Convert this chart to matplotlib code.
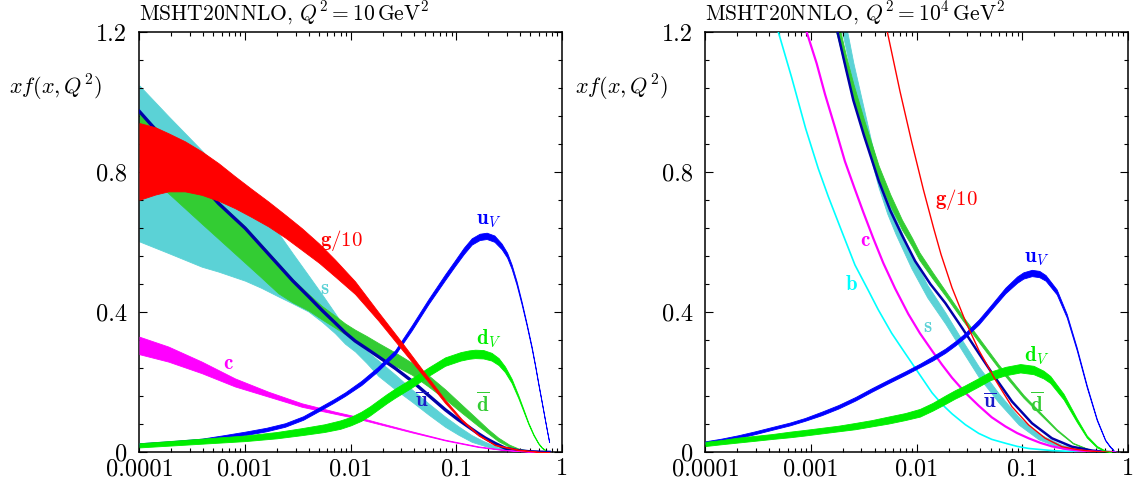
import numpy as np
import matplotlib
matplotlib.use('Agg')
import matplotlib.pyplot as plt
from matplotlib.ticker import FixedLocator, FixedFormatter, LogLocator, MultipleLocator, NullFormatter

plt.rcParams['font.family'] = 'cmr10'
plt.rcParams['mathtext.fontset'] = 'cm'
plt.rcParams['axes.unicode_minus'] = False

# all x positions are log10(x)

# ---- left panel, Q^2 = 10 GeV^2 ----
q10_g_lx = [-4.0, -3.85, -3.727, -3.57, -3.411, -3.25, -3.096, -2.94, -2.78, -2.62, -2.464, -2.3, -2.149, -1.959, -1.738, -1.517, -1.265, -1.107, -0.95, -0.792, -0.635, -0.414, -0.225, -0.12]
q10_g_hi = [0.940, 0.928, 0.911, 0.888, 0.859, 0.825, 0.788, 0.752, 0.716, 0.678, 0.640, 0.596, 0.550, 0.488, 0.400, 0.314, 0.213, 0.150, 0.095, 0.051, 0.022, 0.008, 0.002, 0.001]
q10_g_lo = [0.721, 0.736, 0.745, 0.745, 0.735, 0.718, 0.697, 0.672, 0.645, 0.613, 0.578, 0.541, 0.502, 0.452, 0.376, 0.294, 0.201, 0.141, 0.090, 0.048, 0.020, 0.006, 0.001, 0.0]

q10_s_lx = [-4.0, -3.727, -3.411, -3.253, -3.0, -2.85, -2.685, -2.55, -2.4, -2.27, -2.149, -2.054, -1.959, -1.85, -1.738, -1.58, -1.423, -1.265, -1.107, -0.98, -0.855, -0.75, -0.635, -0.52, -0.414, -0.3, -0.2, -0.12]
q10_s_hi = [1.047, 0.960, 0.862, 0.811, 0.725, 0.678, 0.626, 0.568, 0.505, 0.450, 0.397, 0.355, 0.318, 0.290, 0.262, 0.222, 0.180, 0.140, 0.102, 0.074, 0.049, 0.033, 0.018, 0.009, 0.005, 0.002, 0.001, 0.0]
q10_s_lo = [0.602, 0.569, 0.530, 0.516, 0.490, 0.470, 0.445, 0.425, 0.402, 0.372, 0.340, 0.310, 0.288, 0.255, 0.218, 0.180, 0.145, 0.108, 0.073, 0.050, 0.030, 0.020, 0.010, 0.005, 0.002, 0.001, 0.0, 0.0]

q10_dbar_lx = [-4.0, -3.8, -3.6, -3.411, -3.253, -3.0, -2.85, -2.685, -2.55, -2.4, -2.275, -2.149, -2.054, -1.959, -1.85, -1.738, -1.58, -1.423, -1.265, -1.107, -0.95, -0.792, -0.7, -0.604, -0.5, -0.414, -0.3, -0.2, -0.12]
q10_dbar_hi = [0.969, 0.915, 0.855, 0.785, 0.716, 0.645, 0.595, 0.540, 0.495, 0.452, 0.418, 0.390, 0.368, 0.350, 0.332, 0.312, 0.285, 0.256, 0.220, 0.180, 0.136, 0.092, 0.066, 0.042, 0.022, 0.011, 0.004, 0.001, 0.0]
q10_dbar_lo = [0.815, 0.760, 0.705, 0.653, 0.610, 0.541, 0.500, 0.454, 0.428, 0.405, 0.380, 0.356, 0.338, 0.320, 0.300, 0.272, 0.247, 0.222, 0.188, 0.152, 0.113, 0.075, 0.054, 0.032, 0.016, 0.008, 0.003, 0.0005, 0.0]

q10_ubar_lx = [-4.0, -3.8, -3.6, -3.4, -3.253, -3.1, -3.0, -2.85, -2.685, -2.55, -2.4, -2.27, -2.149, -2.054, -1.959, -1.85, -1.738, -1.58, -1.423, -1.265, -1.107, -0.99, -0.886, -0.8, -0.728, -0.63, -0.54, -0.42, -0.319, -0.2, -0.12]
q10_ubar = [0.973, 0.905, 0.835, 0.760, 0.711, 0.668, 0.640, 0.590, 0.535, 0.490, 0.445, 0.405, 0.370, 0.342, 0.318, 0.296, 0.273, 0.240, 0.204, 0.163, 0.122, 0.095, 0.073, 0.055, 0.041, 0.025, 0.012, 0.005, 0.002, 0.0005, 0.0]

q10_c_lx = [-4.0, -3.727, -3.411, -3.096, -2.78, -2.464, -2.149, -1.959, -1.738, -1.423, -1.107, -0.792, -0.54, -0.288, -0.12]
q10_c_hi = [0.330, 0.302, 0.259, 0.211, 0.173, 0.140, 0.116, 0.103, 0.085, 0.060, 0.036, 0.017, 0.007, 0.002, 0.0]
q10_c_lo = [0.280, 0.259, 0.226, 0.188, 0.159, 0.130, 0.110, 0.098, 0.081, 0.057, 0.034, 0.015, 0.006, 0.001, 0.0]

q10_uv_lx = [-4.0, -3.7, -3.411, -3.2, -3.0, -2.8, -2.622, -2.45, -2.306, -2.17, -2.054, -1.9, -1.75, -1.58, -1.423, -1.265, -1.107, -1.013, -0.93, -0.855, -0.78, -0.713, -0.64, -0.572, -0.52, -0.477, -0.43, -0.382, -0.335, -0.288, -0.255, -0.225, -0.19, -0.161, -0.14, -0.122]
q10_uv = [0.022, 0.028, 0.035, 0.044, 0.054, 0.065, 0.078, 0.098, 0.122, 0.145, 0.166, 0.198, 0.236, 0.285, 0.355, 0.430, 0.500, 0.540, 0.575, 0.602, 0.615, 0.618, 0.610, 0.588, 0.563, 0.530, 0.483, 0.426, 0.365, 0.300, 0.248, 0.197, 0.140, 0.092, 0.058, 0.030]
q10_uv_err = [0.004, 0.004, 0.004, 0.005, 0.005, 0.005, 0.005, 0.005, 0.005, 0.005, 0.005, 0.006, 0.006, 0.006, 0.007, 0.007, 0.008, 0.008, 0.009, 0.009, 0.009, 0.009, 0.009, 0.008, 0.007, 0.006, 0.005, 0.004, 0.003, 0.003, 0.002, 0.002, 0.0015, 0.001, 0.001, 0.001]

q10_dv_lx = [-4.0, -3.5, -3.0, -2.7, -2.464, -2.25, -2.1, -2.0, -1.9, -1.82, -1.738, -1.66, -1.58, -1.423, -1.265, -1.107, -0.96, -0.88, -0.823, -0.745, -0.667, -0.6, -0.54, -0.477, -0.414, -0.365, -0.319, -0.27, -0.225, -0.19, -0.161]
q10_dv = [0.020, 0.030, 0.040, 0.049, 0.059, 0.069, 0.079, 0.089, 0.103, 0.118, 0.136, 0.153, 0.169, 0.198, 0.230, 0.259, 0.274, 0.279, 0.281, 0.280, 0.273, 0.259, 0.237, 0.204, 0.159, 0.120, 0.083, 0.050, 0.026, 0.013, 0.007]
q10_dv_err = [0.006, 0.007, 0.008, 0.009, 0.010, 0.011, 0.012, 0.012, 0.013, 0.013, 0.013, 0.013, 0.013, 0.013, 0.012, 0.012, 0.012, 0.012, 0.012, 0.012, 0.011, 0.010, 0.008, 0.006, 0.004, 0.003, 0.002, 0.0015, 0.001, 0.0008, 0.0005]

# ---- right panel, Q^2 = 10^4 GeV^2 ----
q1e4_g_lx = [-2.32, -2.278, -2.158, -2.047, -1.937, -1.84, -1.77, -1.666, -1.54, -1.413, -1.256, -1.098, -0.94, -0.783, -0.625, -0.5, -0.403, -0.3, -0.15]
q1e4_g = [1.26, 1.20, 1.03, 0.885, 0.750, 0.640, 0.565, 0.470, 0.375, 0.292, 0.207, 0.130, 0.078, 0.040, 0.016, 0.009, 0.005, 0.002, 0.0]

q1e4_b_lx = [-3.36, -3.31, -3.184, -3.052, -2.932, -2.837, -2.711, -2.585, -2.458, -2.364, -2.237, -2.11, -1.97, -1.855, -1.76, -1.666, -1.54, -1.413, -1.29, -1.161, -1.05, -0.94, -0.72, -0.5, -0.3, -0.12]
q1e4_b = [1.25, 1.20, 1.07, 0.925, 0.810, 0.730, 0.632, 0.535, 0.462, 0.407, 0.340, 0.283, 0.221, 0.170, 0.137, 0.110, 0.079, 0.054, 0.037, 0.026, 0.017, 0.011, 0.005, 0.002, 0.0005, 0.0]

q1e4_c_lx = [-3.1, -3.042, -2.947, -2.868, -2.773, -2.68, -2.59, -2.505, -2.41, -2.316, -2.205, -2.08, -1.97, -1.855, -1.76, -1.666, -1.54, -1.413, -1.29, -1.161, -1.05, -0.94, -0.83, -0.72, -0.6, -0.47, -0.3, -0.12]
q1e4_c = [1.27, 1.20, 1.11, 1.022, 0.927, 0.831, 0.755, 0.685, 0.610, 0.540, 0.468, 0.395, 0.340, 0.290, 0.250, 0.213, 0.170, 0.133, 0.100, 0.074, 0.055, 0.040, 0.027, 0.017, 0.010, 0.005, 0.0015, 0.0]

q1e4_s_lx = [-2.75, -2.68, -2.6, -2.5, -2.43, -2.36, -2.28, -2.2, -2.05, -1.9, -1.729, -1.57, -1.413, -1.224, -1.035, -0.846, -0.625, -0.403, -0.2, -0.12]
q1e4_s = [1.30, 1.20, 1.08, 0.95, 0.86, 0.78, 0.705, 0.645, 0.545, 0.460, 0.383, 0.305, 0.230, 0.155, 0.090, 0.045, 0.016, 0.004, 0.0005, 0.0]
q1e4_s_err = [0.04, 0.035, 0.032, 0.03, 0.027, 0.025, 0.023, 0.022, 0.02, 0.018, 0.016, 0.015, 0.015, 0.013, 0.011, 0.008, 0.005, 0.002, 0.0005, 0.0]

q1e4_dbar_lx = [-2.8, -2.74, -2.67, -2.6, -2.5, -2.43, -2.36, -2.25, -2.14, -2.044, -1.975, -1.85, -1.729, -1.57, -1.413, -1.224, -0.99, -0.83, -0.675, -0.52, -0.36, -0.2, -0.12]
q1e4_dbar = [1.27, 1.20, 1.11, 1.03, 0.93, 0.865, 0.80, 0.72, 0.65, 0.60, 0.56, 0.505, 0.454, 0.385, 0.321, 0.245, 0.160, 0.111, 0.064, 0.026, 0.007, 0.001, 0.0]
q1e4_dbar_err = [0.03, 0.025, 0.023, 0.022, 0.02, 0.019, 0.018, 0.016, 0.014, 0.012, 0.011, 0.009, 0.007, 0.006, 0.006, 0.005, 0.004, 0.003, 0.002, 0.001, 0.0005, 0.0, 0.0]

q1e4_ubar_lx = [-2.8, -2.75, -2.67, -2.6, -2.5, -2.43, -2.36, -2.25, -2.14, -2.015, -1.87, -1.729, -1.57, -1.413, -1.287, -1.098, -0.909, -0.72, -0.53, -0.34, -0.2, -0.12]
q1e4_ubar = [1.26, 1.20, 1.095, 1.005, 0.905, 0.84, 0.775, 0.69, 0.62, 0.546, 0.48, 0.426, 0.355, 0.283, 0.226, 0.145, 0.083, 0.040, 0.016, 0.005, 0.001, 0.0]

q1e4_uv_lx = [-4.0, -3.85, -3.69, -3.53, -3.373, -3.2, -3.058, -2.9, -2.742, -2.58, -2.426, -2.27, -2.11, -1.97, -1.85, -1.73, -1.64, -1.55, -1.413, -1.306, -1.161, -1.05, -0.99, -0.91, -0.84, -0.78, -0.675, -0.58, -0.485, -0.39, -0.295, -0.216, -0.17, -0.137]
q1e4_uv = [0.0275, 0.035, 0.0447, 0.056, 0.068, 0.081, 0.094, 0.111, 0.130, 0.153, 0.178, 0.202, 0.226, 0.248, 0.268, 0.290, 0.310, 0.332, 0.372, 0.410, 0.462, 0.493, 0.505, 0.512, 0.509, 0.498, 0.458, 0.390, 0.295, 0.188, 0.093, 0.035, 0.016, 0.006]
q1e4_uv_err = [0.004, 0.004, 0.004, 0.004, 0.004, 0.004, 0.004, 0.005, 0.005, 0.005, 0.005, 0.005, 0.005, 0.005, 0.006, 0.006, 0.006, 0.006, 0.007, 0.007, 0.008, 0.009, 0.009, 0.009, 0.009, 0.008, 0.007, 0.005, 0.004, 0.003, 0.002, 0.001, 0.001, 0.0005]

q1e4_dv_lx = [-4.0, -3.85, -3.69, -3.53, -3.373, -3.2, -3.058, -2.9, -2.742, -2.58, -2.426, -2.27, -2.11, -1.97, -1.85, -1.73, -1.64, -1.55, -1.413, -1.306, -1.16, -1.02, -0.894, -0.8, -0.736, -0.61, -0.485, -0.39, -0.295, -0.216, -0.16]
q1e4_dv = [0.024, 0.029, 0.035, 0.040, 0.045, 0.051, 0.056, 0.062, 0.068, 0.075, 0.083, 0.092, 0.102, 0.113, 0.130, 0.150, 0.165, 0.178, 0.200, 0.218, 0.232, 0.240, 0.235, 0.222, 0.208, 0.159, 0.092, 0.045, 0.016, 0.004, 0.001]
q1e4_dv_err = [0.006, 0.006, 0.007, 0.007, 0.007, 0.008, 0.008, 0.008, 0.008, 0.009, 0.009, 0.010, 0.010, 0.011, 0.011, 0.012, 0.012, 0.012, 0.012, 0.012, 0.012, 0.012, 0.012, 0.011, 0.010, 0.008, 0.005, 0.003, 0.002, 0.001, 0.0005]

x_ticks = [1e-4, 1e-3, 1e-2, 1e-1, 1.0]
x_tick_labels = ['0.0001', '0.001', '0.01', '0.1', '1']
y_ticks = [0.0, 0.4, 0.8, 1.2]
y_tick_labels = ['0', '0.4', '0.8', '1.2']

C_S = '#5bd2d6'
C_DBAR = '#33cc33'
C_UBAR = '#0000a8'
C_UV = '#0000ff'
C_DV = '#00ee00'
C_C = '#ff00ff'
C_B = '#00ffff'
C_G = '#ff0000'


def xs(lx):
    return 10.0 ** np.asarray(lx)


def band(ax, lx, lo, hi, color, z):
    ax.fill_between(xs(lx), lo, hi, facecolor=color, edgecolor=color, lw=0.6, zorder=z)


def band_err(ax, lx, c, e, color, z):
    c = np.asarray(c)
    e = np.asarray(e)
    band(ax, lx, c - e, c + e, color, z)


def setup(ax, title):
    ax.set_xscale('log')
    ax.set_xlim(1e-4, 1.0)
    ax.set_ylim(0, 1.2)
    ax.xaxis.set_major_locator(FixedLocator(x_ticks))
    ax.xaxis.set_major_formatter(FixedFormatter(x_tick_labels))
    ax.xaxis.set_minor_locator(LogLocator(base=10, subs=np.arange(2, 10)))
    ax.xaxis.set_minor_formatter(NullFormatter())
    ax.yaxis.set_major_locator(FixedLocator(y_ticks))
    ax.yaxis.set_major_formatter(FixedFormatter(y_tick_labels))
    ax.yaxis.set_minor_locator(MultipleLocator(0.08))
    ax.tick_params(which='both', direction='in', top=True, right=True, width=0.8)
    ax.tick_params(which='major', length=5.5, labelsize=17.5)
    ax.tick_params(which='minor', length=3)
    ax.tick_params(axis='x', which='major', pad=4)
    ax.tick_params(axis='y', which='major', pad=9)
    for sp in ax.spines.values():
        sp.set_linewidth(1.1)
    ax.text(0.0, 1.012, title, transform=ax.transAxes, ha='left', va='bottom', fontsize=15.5)
    ax.text(-0.2, 0.867, r'$xf(x,Q^2)$', transform=ax.transAxes, ha='center', va='center', fontsize=16)


def lab(ax, x, y, s, color):
    ax.text(x, y, s, color=color, fontsize=15, ha='center', va='center', zorder=20)


fig = plt.figure(figsize=(11.34, 4.79), dpi=100)
ax1 = fig.add_axes([0.1230, 0.0557, 0.3726, 0.8775])
ax2 = fig.add_axes([0.6221, 0.0557, 0.3726, 0.8775])

# left panel
band(ax1, q10_s_lx, q10_s_lo, q10_s_hi, C_S, 1)
band(ax1, q10_dbar_lx, q10_dbar_lo, q10_dbar_hi, C_DBAR, 2)
ax1.plot(xs(q10_ubar_lx), q10_ubar, color=C_UBAR, lw=2.4, zorder=3)
band(ax1, q10_c_lx, q10_c_lo, q10_c_hi, C_C, 4)
band_err(ax1, q10_uv_lx, q10_uv, q10_uv_err, C_UV, 5)
band_err(ax1, q10_dv_lx, q10_dv, q10_dv_err, C_DV, 6)
band(ax1, q10_g_lx, q10_g_lo, q10_g_hi, C_G, 7)
setup(ax1, r'MSHT20NNLO, $Q^2=10\,\mathrm{GeV}^2$')

lab(ax1, 10**-2.084, 0.605, r'$\mathbf{g/10}$', C_G)
lab(ax1, 10**-2.249, 0.466, r'$\mathbf{s}$', C_S)
lab(ax1, 10**-3.158, 0.252, r'$\mathbf{c}$', C_C)
lab(ax1, 10**-0.69, 0.659, r'$\mathbf{u}_V$', C_UV)
lab(ax1, 10**-0.69, 0.323, r'$\mathbf{d}_V$', C_DV)
lab(ax1, 10**-1.327, 0.145, r'$\overline{\mathbf{u}}$', '#1c1cc8')
lab(ax1, 10**-0.747, 0.140, r'$\overline{\mathbf{d}}$', C_DBAR)

# right panel
band_err(ax2, q1e4_s_lx, q1e4_s, q1e4_s_err, C_S, 1)
band_err(ax2, q1e4_dbar_lx, q1e4_dbar, q1e4_dbar_err, C_DBAR, 2)
ax2.plot(xs(q1e4_ubar_lx), q1e4_ubar, color=C_UBAR, lw=1.8, zorder=3)
ax2.plot(xs(q1e4_b_lx), q1e4_b, color=C_B, lw=1.2, zorder=4)
ax2.plot(xs(q1e4_c_lx), q1e4_c, color=C_C, lw=1.6, zorder=4)
band_err(ax2, q1e4_uv_lx, q1e4_uv, q1e4_uv_err, C_UV, 5)
band_err(ax2, q1e4_dv_lx, q1e4_dv, q1e4_dv_err, C_DV, 6)
ax2.plot(xs(q1e4_g_lx), q1e4_g, color=C_G, lw=1.0, zorder=7)
setup(ax2, r'MSHT20NNLO, $Q^2=10^4\,\mathrm{GeV}^2$')

lab(ax2, 10**-1.625, 0.723, r'$\mathbf{g/10}$', C_G)
lab(ax2, 10**-2.486, 0.602, r'$\mathbf{c}$', C_C)
lab(ax2, 10**-2.615, 0.480, r'$\mathbf{b}$', C_B)
lab(ax2, 10**-1.894, 0.359, r'$\mathbf{s}$', C_S)
lab(ax2, 10**-0.866, 0.551, r'$\mathbf{u}_V$', C_UV)
lab(ax2, 10**-0.866, 0.275, r'$\mathbf{d}_V$', C_DV)
lab(ax2, 10**-1.309, 0.142, r'$\overline{\mathbf{u}}$', '#1c1cc8')
lab(ax2, 10**-0.866, 0.140, r'$\overline{\mathbf{d}}$', C_DBAR)

fig.savefig('out.png', dpi=100)
